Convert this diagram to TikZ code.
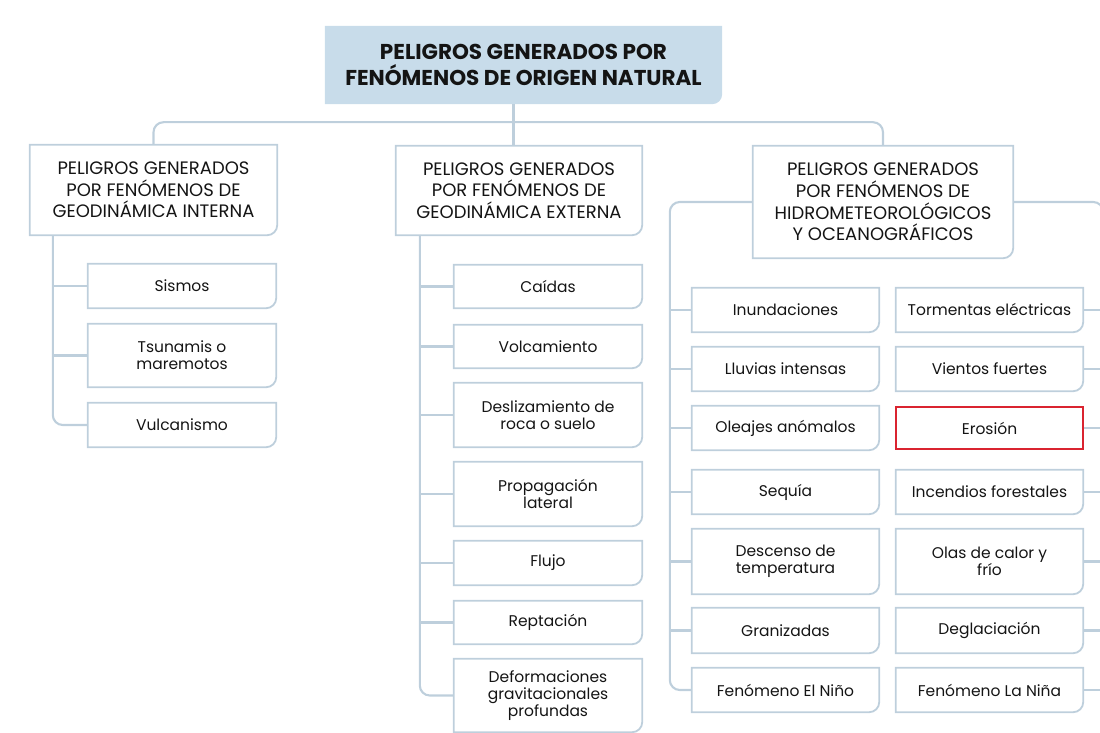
\documentclass[tikz,border=0pt]{standalone}
\usepackage{fontspec}
\setmainfont{Poppins}
\usetikzlibrary{backgrounds}
\definecolor{lineblue}{RGB}{190,207,220}
\definecolor{titlefill}{RGB}{200,220,234}
\definecolor{erored}{RGB}{218,36,48}
\definecolor{ink}{RGB}{20,20,20}
\newcommand\rbx[1]{\draw[line width=1.8pt, draw=lineblue] (#1.north west) -- (#1.north east) -- ([yshift=10pt]#1.south east) arc[start angle=0, end angle=-90, radius=10pt] -- (#1.south west) -- cycle;}
\begin{document}
\begin{tikzpicture}[x=1pt,y=-1pt,
  conn/.style={draw=lineblue, line width=2.1pt, rounded corners=10pt},
  kid/.style={align=center, text=ink, inner sep=0pt, font=\fontsize{15.5}{16.8}\selectfont},
  head/.style={align=center, text=ink, inner sep=0pt, font=\fontsize{18}{21.7}\selectfont},
]
\useasboundingbox (0,0) rectangle (1100,733);
% title
\node[align=center, text=ink, inner sep=0pt, minimum width=397pt, minimum height=78pt, font=\fontsize{21.5}{26.7}\selectfont\bfseries] (title) at (523.5,65) {PELIGROS GENERADOS POR\\FENÓMENOS DE ORIGEN NATURAL};
\begin{pgfonlayer}{background}
\fill[titlefill] (title.north west) -- (title.north east) -- ([yshift=10pt]title.south east) arc[start angle=0, end angle=-90, radius=10pt] -- (title.south west) -- cycle;
\end{pgfonlayer}
% headers
\node[head, minimum width=247pt, minimum height=90pt] (L) at (153.5,190) {PELIGROS GENERADOS\\POR FENÓMENOS DE\\GEODINÁMICA INTERNA};
\node[head, minimum width=246pt, minimum height=89pt] (M) at (519,190.5) {PELIGROS GENERADOS\\POR FENÓMENOS DE\\GEODINÁMICA EXTERNA};
\node[head, minimum width=260pt, minimum height=112pt] (H) at (883,202) {PELIGROS GENERADOS\\POR FENÓMENOS DE\\HIDROMETEOROLÓGICOS\\Y OCEANOGRÁFICOS};
% left children
\node[kid, minimum width=188pt, minimum height=44pt] (sis) at (182,286) {Sismos};
\node[kid, minimum width=188pt, minimum height=63pt] (tsu) at (182,355.5) {Tsunamis o\\maremotos};
\node[kid, minimum width=188pt, minimum height=44pt] (vul) at (182,425) {Vulcanismo};
% middle children
\node[kid, minimum width=188pt, minimum height=43pt] (cai) at (548,286.5) {Caídas};
\node[kid, minimum width=188pt, minimum height=43pt] (vol) at (548,346.5) {Volcamiento};
\node[kid, minimum width=188pt, minimum height=64pt] (des) at (548,415) {Deslizamiento de\\roca o suelo};
\node[kid, minimum width=188pt, minimum height=64pt] (pro) at (548,494) {Propagación\\lateral};
\node[kid, minimum width=188pt, minimum height=44pt] (flu) at (548,563) {Flujo};
\node[kid, minimum width=188pt, minimum height=43pt] (rep) at (548,622.5) {Reptación};
\node[kid, minimum width=188pt, minimum height=73pt] (def) at (548,695.5) {Deformaciones\\gravitacionales\\profundas};
% right col 1
\node[kid, minimum width=187pt, minimum height=44pt] (inu) at (785.5,310) {Inundaciones};
\node[kid, minimum width=187pt, minimum height=44pt] (llu) at (785.5,369) {Lluvias intensas};
\node[kid, minimum width=187pt, minimum height=44pt] (ole) at (785.5,428) {Oleajes anómalos};
\node[kid, minimum width=187pt, minimum height=44pt] (seq) at (785.5,492) {Sequía};
\node[kid, minimum width=187pt, minimum height=65pt] (dsc) at (785.5,561.5) {Descenso de\\temperatura};
\node[kid, minimum width=187pt, minimum height=45pt] (gra) at (785.5,630.5) {Granizadas};
\node[kid, minimum width=187pt, minimum height=44pt] (nin) at (785.5,690) {Fenómeno El Niño};
% right col 2
\node[kid, minimum width=187pt, minimum height=44pt] (tor) at (989.5,310) {Tormentas eléctricas};
\node[kid, minimum width=187pt, minimum height=44pt] (vie) at (989.5,369) {Vientos fuertes};
\node[kid, minimum width=187pt, minimum height=42pt, draw=erored, line width=2.2pt] (ero) at (989.5,428) {Erosión};
\node[kid, minimum width=187pt, minimum height=44pt] (inc) at (989.5,492) {Incendios forestales};
\node[kid, minimum width=187pt, minimum height=65pt] (ola) at (989.5,561.5) {Olas de calor y\\frío};
\node[kid, minimum width=187pt, minimum height=45pt] (deg) at (989.5,630.5) {Deglaciación};
\node[kid, minimum width=187pt, minimum height=44pt] (lan) at (989.5,690) {Fenómeno La Niña};
% outlines
\foreach \n in {L,M,H,sis,tsu,vul,cai,vol,des,pro,flu,rep,def,inu,llu,ole,seq,dsc,gra,nin,tor,vie,inc,ola,deg,lan}{\rbx{\n}}
% connectors
\coordinate (bus) at ([yshift=-18pt]title.south);
\draw[conn] ([xshift=-10pt]title.south) -- ([xshift=-10pt]title.south |- M.north);
\draw[conn] (L.north) |- (bus) -| (H.north);
% left tree
\coordinate (lx) at ([xshift=23pt]L.south west);
\draw[conn] (lx) |- (vul.west);
\foreach \n in {sis,tsu}{\draw[conn] (\n.west) -- (\n.west -| lx);}
% middle tree
\coordinate (mx) at ([xshift=24pt]M.south west);
\draw[conn] (mx) |- (def.west);
\foreach \n in {cai,vol,des,pro,flu,rep}{\draw[conn] (\n.west) -- (\n.west -| mx);}
% hydro tree
\coordinate (hx) at ([xshift=-22pt]nin.west);
\draw[conn] (H.west) -| (hx) -- (nin.west);
\foreach \n in {inu,llu,ole,seq,dsc,gra}{\draw[conn] (\n.west) -- (\n.west -| hx);}
\coordinate (rx) at ([xshift=20pt]lan.east);
\draw[conn] (H.east) -| (rx);
\foreach \n in {tor,vie,ero,inc,ola,deg,lan}{\draw[conn] (\n.east) -- (\n.east -| rx);}
\end{tikzpicture}
\end{document}
